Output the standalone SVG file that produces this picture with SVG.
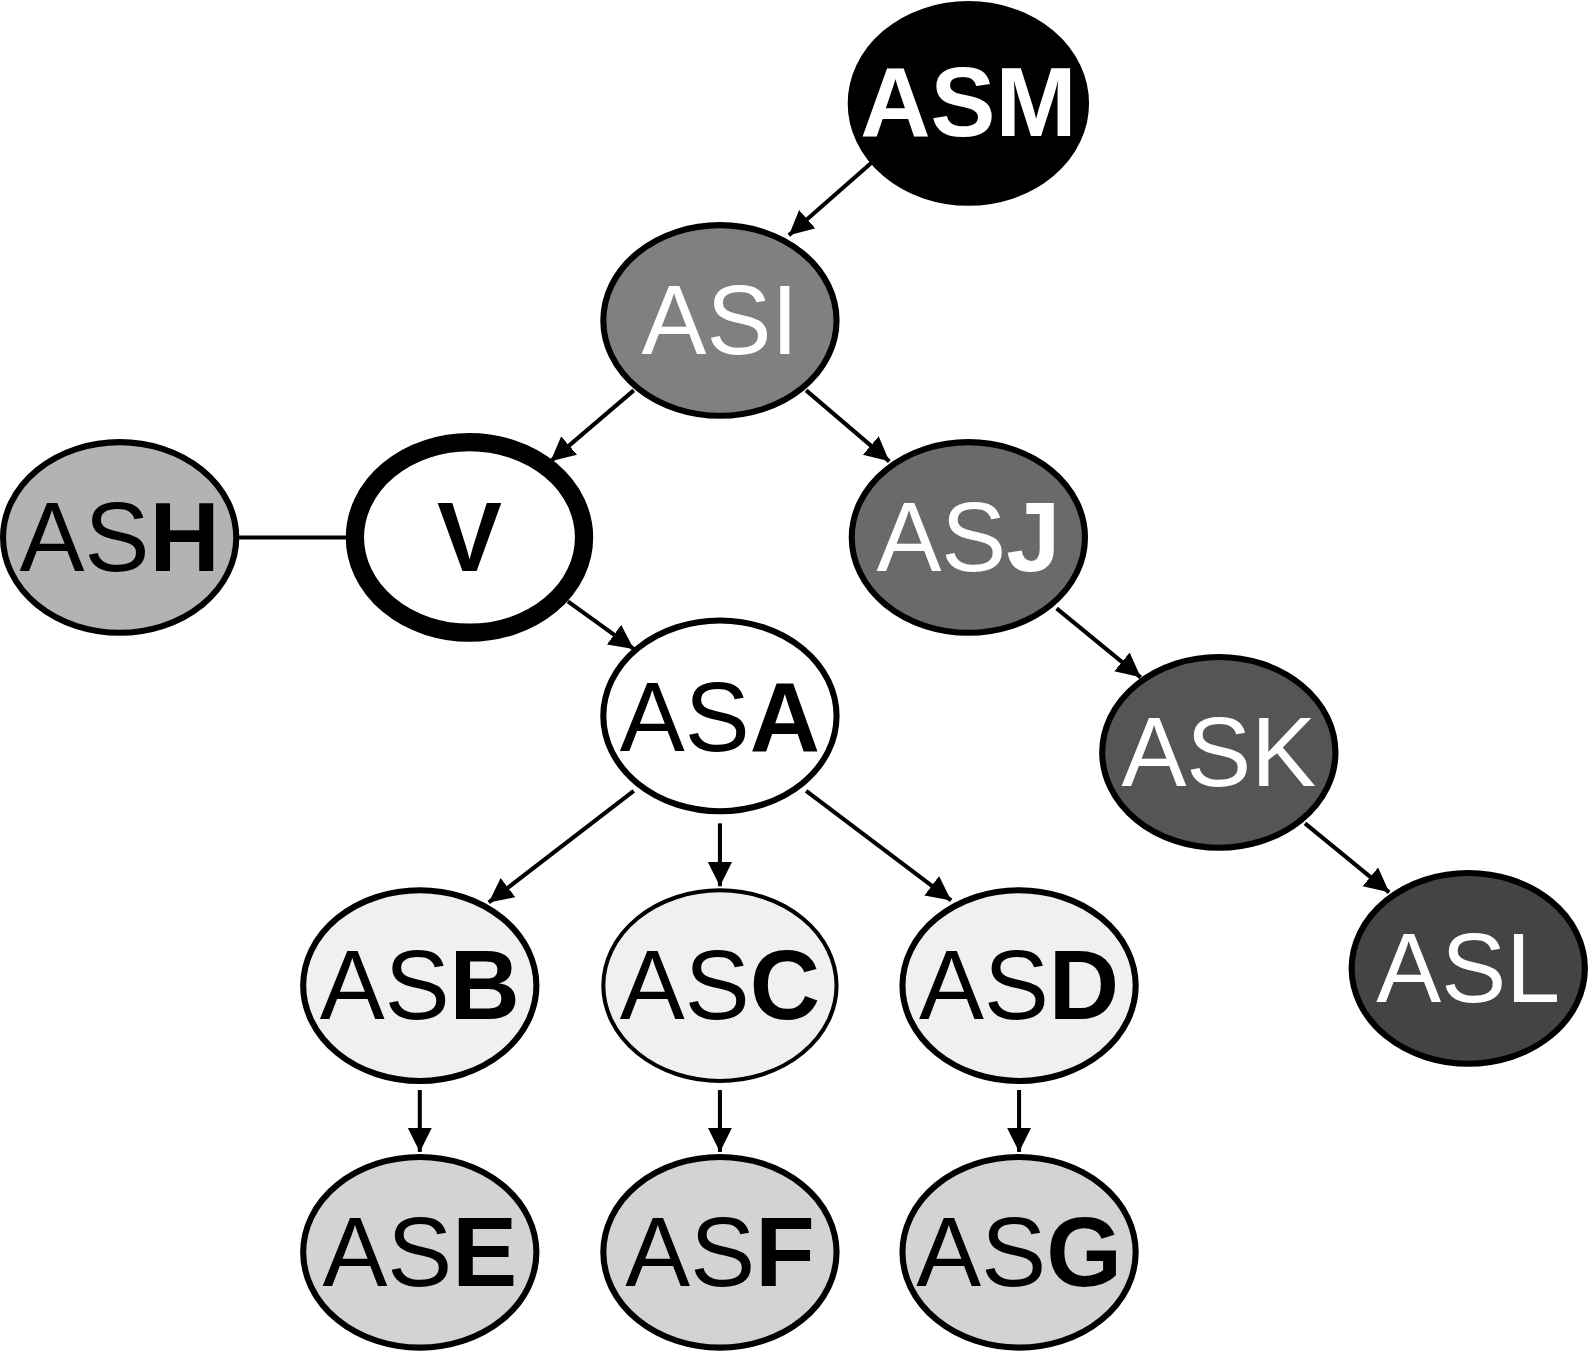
<svg xmlns="http://www.w3.org/2000/svg" width="1590" height="1357" viewBox="0 0 1590 1357">
<style>
ellipse{stroke:#000;stroke-width:6}
text{font-family:"Liberation Sans",Arial,sans-serif;font-size:96px;text-anchor:middle}
.w{fill:#fff}
.b{font-weight:bold}
.c line{stroke:#000;stroke-width:4}
</style>
<defs>
<marker id="a" markerUnits="userSpaceOnUse" markerWidth="26" markerHeight="26" refX="24" refY="12" orient="auto"><path d="M0,0L24,12L0,24Z" fill="#000"/></marker>
</defs>
<rect width="1590" height="1357" fill="#fff"/>
<g transform="scale(1.014)">
<g class="c">
<line x1="860" y1="160" x2="778" y2="232" marker-end="url(#a)"/>
<line x1="625" y1="385" x2="543" y2="455" marker-end="url(#a)"/>
<line x1="795" y1="385" x2="877" y2="455" marker-end="url(#a)"/>
<line x1="235" y1="530" x2="343" y2="530"/>
<line x1="560" y1="593" x2="625" y2="640" marker-end="url(#a)"/>
<line x1="1042" y1="600" x2="1125" y2="668" marker-end="url(#a)"/>
<line x1="1287" y1="812" x2="1370" y2="880" marker-end="url(#a)"/>
<line x1="625" y1="780" x2="482" y2="890" marker-end="url(#a)"/>
<line x1="710" y1="812" x2="710" y2="874" marker-end="url(#a)"/>
<line x1="795" y1="780" x2="938" y2="888" marker-end="url(#a)"/>
<line x1="414" y1="1075" x2="414" y2="1136" marker-end="url(#a)"/>
<line x1="710" y1="1075" x2="710" y2="1136" marker-end="url(#a)"/>
<line x1="1005" y1="1075" x2="1005" y2="1136" marker-end="url(#a)"/>
</g>
<g id="ASM"><ellipse cx="955" cy="102" rx="116" ry="98" fill="#000"/><text x="955" y="134" class="w b">ASM</text></g>
<g id="ASI"><ellipse cx="710" cy="316" rx="115" ry="94" fill="#808080"/><text x="710" y="349" class="w">ASI</text></g>
<g id="ASJ"><ellipse cx="955" cy="530" rx="115" ry="94" fill="#6a6a6a"/><text x="955" y="563" class="w">AS<tspan class="b">J</tspan></text></g>
<g id="ASK"><ellipse cx="1202" cy="742" rx="115" ry="94" fill="#555"/><text x="1202" y="775" class="w">ASK</text></g>
<g id="ASL"><ellipse cx="1448" cy="955" rx="115" ry="94" fill="#444"/><text x="1448" y="988" class="w">ASL</text></g>
<g id="ASH"><ellipse cx="118" cy="530" rx="115" ry="94" fill="#b3b3b3"/><text x="118" y="563">AS<tspan class="b">H</tspan></text></g>
<g id="V"><ellipse cx="463" cy="530" rx="113" ry="94" fill="#fff" style="stroke-width:18"/><text x="463" y="563" class="b">V</text></g>
<g id="ASA"><ellipse cx="710" cy="706" rx="115" ry="94" fill="#fff"/><text x="710" y="741">AS<tspan class="b">A</tspan></text></g>
<g id="ASB"><ellipse cx="414" cy="972" rx="115" ry="94" fill="#f0f0f0"/><text x="414" y="1005">AS<tspan class="b">B</tspan></text></g>
<g id="ASC"><ellipse cx="710" cy="972" rx="115" ry="94" fill="#f0f0f0" style="stroke-width:4"/><text x="710" y="1005">AS<tspan class="b">C</tspan></text></g>
<g id="ASD"><ellipse cx="1005" cy="972" rx="115" ry="94" fill="#f0f0f0"/><text x="1005" y="1005">AS<tspan class="b">D</tspan></text></g>
<g id="ASE"><ellipse cx="414" cy="1235" rx="115" ry="94" fill="#d3d3d3"/><text x="414" y="1268">AS<tspan class="b">E</tspan></text></g>
<g id="ASF"><ellipse cx="710" cy="1235" rx="115" ry="94" fill="#d3d3d3"/><text x="710" y="1268">AS<tspan class="b">F</tspan></text></g>
<g id="ASG"><ellipse cx="1005" cy="1235" rx="115" ry="94" fill="#d3d3d3"/><text x="1005" y="1268">AS<tspan class="b">G</tspan></text></g>
</g>
</svg>
